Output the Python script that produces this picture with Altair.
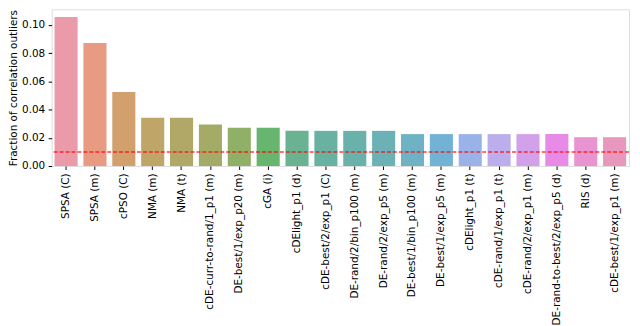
import math
import colorsys
import altair as alt
import pandas as pd

categories = [
    "SPSA (C)", "SPSA (m)", "cPSO (C)", "NMA (m)", "NMA (t)",
    "cDE-curr-to-rand/1_p1 (m)", "DE-best/1/exp_p20 (m)", "cGA (i)",
    "cDElight_p1 (d)", "cDE-best/2/exp_p1 (C)", "DE-rand/2/bin_p100 (m)",
    "DE-rand/2/exp_p5 (m)", "DE-best/1/bin_p100 (m)", "DE-best/1/exp_p5 (m)",
    "cDElight_p1 (t)", "cDE-rand/1/exp_p1 (t)", "cDE-rand/2/exp_p1 (m)",
    "DE-rand-to-best/2/exp_p5 (d)", "RIS (d)", "cDE-best/1/exp_p1 (m)",
]
values = [
    0.1056, 0.0872, 0.0525, 0.0341, 0.0341,
    0.0294, 0.0271, 0.0271,
    0.0249, 0.0249, 0.0249,
    0.0249, 0.0226, 0.0226,
    0.0226, 0.0226, 0.0226,
    0.0226, 0.0204, 0.0204,
]
threshold = [0.01]
y_ticks = [0.0, 0.02, 0.04, 0.06, 0.08, 0.10]

# ---- seaborn-like husl palette (style only) ----
_M = [[3.2406, -1.5372, -0.4986], [-0.9689, 1.8758, 0.0415], [0.0557, -0.2040, 1.0570]]
_refY, _refU, _refV = 1.0, 0.19784, 0.46834
_lab_e, _lab_k = 0.008856, 903.3


def _max_chroma(L, H):
    hrad = math.radians(H)
    sinH, cosH = math.sin(hrad), math.cos(hrad)
    sub1 = (L + 16) ** 3 / 1560896.0
    sub2 = sub1 if sub1 > _lab_e else L / _lab_k
    result = float("inf")
    for m1, m2, m3 in _M:
        top = (0.99915 * m1 + 1.05122 * m2 + 1.14460 * m3) * sub2
        rb = 0.86330 * m3 - 0.17266 * m2
        lb = 0.12949 * m3 - 0.38848 * m1
        bottom = (rb * sinH + lb * cosH) * sub2
        for t in (0.0, 1.0):
            C = L * (top - 1.05122 * t) / (bottom + 0.17266 * sinH * t)
            if 0.0 < C < result:
                result = C
    return result


def _husl_to_rgb(h, s, l):
    C = _max_chroma(l, h) / 100.0 * s
    hrad = math.radians(h)
    U, V = C * math.cos(hrad), C * math.sin(hrad)
    varY = _refY * ((l + 16) / 116.0) ** 3 if l > 8 else _refY * l / _lab_k
    varU = U / (13 * l) + _refU
    varV = V / (13 * l) + _refV
    Y = varY * _refY
    X = -(9 * Y * varU) / ((varU - 4) * varV - varU * varV)
    Z = (9 * Y - 15 * varV * Y - varV * X) / (3 * varV)
    out = []
    for row in _M:
        c = row[0] * X + row[1] * Y + row[2] * Z
        c = 12.92 * c if c <= 0.0031308 else 1.055 * c ** (1 / 2.4) - 0.055
        out.append(min(1.0, max(0.0, c)))
    return out


def _palette(n, alpha=0.8):
    cols = []
    for i in range(n):
        h = ((i / n + 0.01) % 1) * 359
        r, g, b = _husl_to_rgb(h, 0.9 * 99, 0.65 * 99)
        hh, ll, ss = colorsys.rgb_to_hls(r, g, b)
        r, g, b = colorsys.hls_to_rgb(hh, ll, ss * 0.75)
        r, g, b = [alpha * c + (1 - alpha) for c in (r, g, b)]
        cols.append("#%02x%02x%02x" % (round(r * 255), round(g * 255), round(b * 255)))
    return cols


palette = _palette(len(categories))

df = pd.DataFrame({"method": categories, "value": values})
df_line = pd.DataFrame({"value": threshold})

FONT = "DejaVu Sans"

y_scale = alt.Scale(domain=[0, 0.111], nice=False, zero=True)

bars = alt.Chart(df).mark_bar().encode(
    x=alt.X(
        "method:N", sort=None, title=None,
        scale=alt.Scale(paddingInner=0.2, paddingOuter=0.1),
        axis=alt.Axis(labelAngle=270, labelFontSize=10.5, labelFont=FONT,
                      labelColor="#000", tickColor="#000", tickSize=3.5,
                      labelPadding=3.5, domain=False, labelLimit=300),
    ),
    y=alt.Y(
        "value:Q", title="Fraction of correlation outliers",
        scale=y_scale,
        axis=alt.Axis(values=y_ticks, format=".2f", labelFontSize=10.5, labelFont=FONT,
                      labelColor="#000", tickColor="#000", tickSize=3.5,
                      labelPadding=3.5, grid=False, domain=False, labelOverlap=False,
                      labelFlush=False,
                      titleFontSize=10.5, titleFont=FONT, titleFontWeight="normal",
                      titleColor="#000", titlePadding=3),
    ),
    color=alt.Color("method:N", sort=None, legend=None,
                    scale=alt.Scale(domain=categories, range=palette)),
)

line = alt.Chart(df_line).mark_rule(color="red", strokeDash=[4, 2], strokeWidth=1.5, opacity=0.75).encode(
    y=alt.Y("value:Q", scale=y_scale, axis=None),
)

chart = alt.layer(bars, line).resolve_axis(y="independent").properties(
    width=582, height=158,
    padding={"left": 0, "top": 0, "right": 2, "bottom": 0},
).configure_view(
    stroke="#555", strokeWidth=1,
).configure(background="white")

chart.save("out.html", embed_options={"renderer": "svg", "actions": False})
